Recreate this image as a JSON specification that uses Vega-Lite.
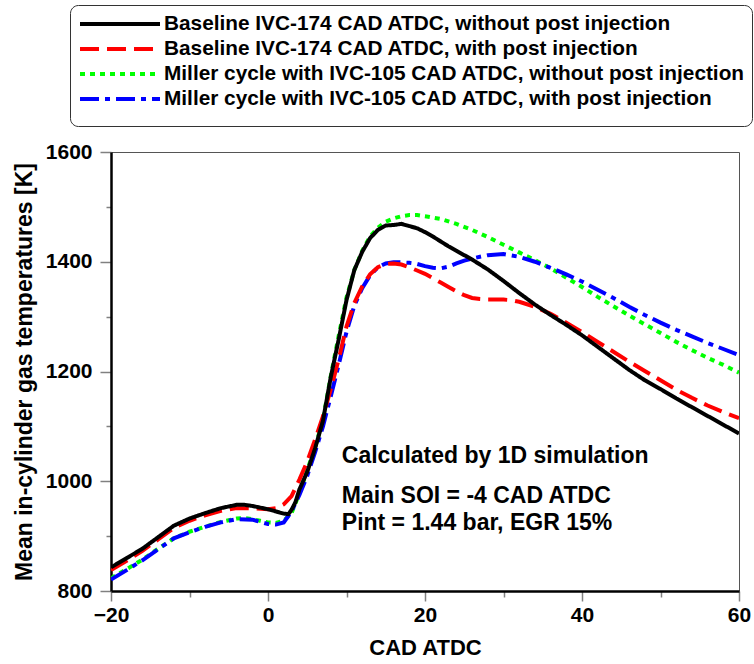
{
  "$schema": "https://vega.github.io/schema/vega-lite/v6.json",
  "width": 628,
  "height": 439,
  "autosize": {"type": "none"},
  "padding": {"left": 111, "top": 152, "right": 15, "bottom": 73},
  "background": "white",
  "config": {
    "font": "Liberation Sans",
    "view": {"stroke": "#555555", "strokeWidth": 1},
    "legend": {
      "orient": "none",
      "legendX": -41,
      "legendY": -147,
      "strokeColor": "#333333",
      "fillColor": "#ffffff",
      "cornerRadius": 8,
      "padding": 7,
      "symbolType": "M-4,0H4",
      "symbolSize": 400,
      "symbolStrokeWidth": 4,
      "symbolOffset": 31,
      "labelOffset": 32,
      "rowPadding": 3,
      "labelFont": "Liberation Sans",
      "labelFontSize": 20.8,
      "labelFontWeight": "bold",
      "labelColor": "#000000",
      "labelLimit": 0,
      "titleOrient": "bottom",
      "titleFontSize": 8,
      "titlePadding": 2,
      "titleColor": "#ffffff"
    }
  },
  "layer": [
    {
      "data": {
        "values": [
          {"s":"G","x":-20,"T":823},{"s":"G","x":-18,"T":840},{"s":"G","x":-16,"T":857},{"s":"G","x":-14,"T":877},{"s":"G","x":-12,"T":896},{"s":"G","x":-10,"T":908},{"s":"G","x":-8,"T":917},{"s":"G","x":-6,"T":926},{"s":"G","x":-4,"T":932},{"s":"G","x":-3,"T":933},{"s":"G","x":-2,"T":931},{"s":"G","x":-1,"T":928},{"s":"G","x":0,"T":925},{"s":"G","x":1,"T":924},{"s":"G","x":2,"T":928},{"s":"G","x":3,"T":942},{"s":"G","x":4,"T":978},{"s":"G","x":5,"T":1020},{"s":"G","x":6,"T":1062},{"s":"G","x":7,"T":1112},{"s":"G","x":8,"T":1192},{"s":"G","x":9,"T":1265},{"s":"G","x":10,"T":1335},{"s":"G","x":11,"T":1385},{"s":"G","x":12,"T":1420},{"s":"G","x":13,"T":1446},{"s":"G","x":14,"T":1462},{"s":"G","x":15,"T":1473},{"s":"G","x":16,"T":1479},{"s":"G","x":17,"T":1483},{"s":"G","x":18,"T":1485},{"s":"G","x":19,"T":1485},{"s":"G","x":20,"T":1483},{"s":"G","x":22,"T":1478},{"s":"G","x":24,"T":1469},{"s":"G","x":26,"T":1458},{"s":"G","x":28,"T":1445},{"s":"G","x":30,"T":1431},{"s":"G","x":32,"T":1417},{"s":"G","x":34,"T":1403},{"s":"G","x":36,"T":1388},{"s":"G","x":38,"T":1371},{"s":"G","x":40,"T":1354},{"s":"G","x":42,"T":1336},{"s":"G","x":44,"T":1319},{"s":"G","x":46,"T":1302},{"s":"G","x":48,"T":1286},{"s":"G","x":50,"T":1270},{"s":"G","x":52,"T":1254},{"s":"G","x":54,"T":1239},{"s":"G","x":56,"T":1225},{"s":"G","x":58,"T":1212},{"s":"G","x":60,"T":1198},
          {"s":"B","x":-20,"T":821},{"s":"B","x":-18,"T":838},{"s":"B","x":-16,"T":856},{"s":"B","x":-14,"T":876},{"s":"B","x":-12,"T":896},{"s":"B","x":-10,"T":907},{"s":"B","x":-8,"T":917},{"s":"B","x":-6,"T":925},{"s":"B","x":-4,"T":931},{"s":"B","x":-2,"T":930},{"s":"B","x":-1,"T":926},{"s":"B","x":0,"T":922},{"s":"B","x":1,"T":921},{"s":"B","x":2,"T":925},{"s":"B","x":3,"T":945},{"s":"B","x":4,"T":975},{"s":"B","x":5,"T":1010},{"s":"B","x":6,"T":1053},{"s":"B","x":7,"T":1100},{"s":"B","x":8,"T":1155},{"s":"B","x":9,"T":1212},{"s":"B","x":10,"T":1272},{"s":"B","x":11,"T":1320},{"s":"B","x":12,"T":1352},{"s":"B","x":13,"T":1375},{"s":"B","x":14,"T":1390},{"s":"B","x":15,"T":1397},{"s":"B","x":16,"T":1399},{"s":"B","x":17,"T":1399},{"s":"B","x":18,"T":1398},{"s":"B","x":19,"T":1396},{"s":"B","x":20,"T":1392},{"s":"B","x":21,"T":1389},{"s":"B","x":22,"T":1388},{"s":"B","x":23,"T":1391},{"s":"B","x":24,"T":1397},{"s":"B","x":25,"T":1402},{"s":"B","x":26,"T":1406},{"s":"B","x":28,"T":1412},{"s":"B","x":30,"T":1414},{"s":"B","x":32,"T":1409},{"s":"B","x":34,"T":1400},{"s":"B","x":36,"T":1389},{"s":"B","x":38,"T":1377},{"s":"B","x":40,"T":1364},{"s":"B","x":42,"T":1349},{"s":"B","x":44,"T":1334},{"s":"B","x":46,"T":1318},{"s":"B","x":48,"T":1303},{"s":"B","x":50,"T":1289},{"s":"B","x":52,"T":1276},{"s":"B","x":54,"T":1264},{"s":"B","x":56,"T":1252},{"s":"B","x":58,"T":1241},{"s":"B","x":60,"T":1230},
          {"s":"R","x":-20,"T":838},{"s":"R","x":-18,"T":855},{"s":"R","x":-16,"T":873},{"s":"R","x":-14,"T":894},{"s":"R","x":-12,"T":915},{"s":"R","x":-10,"T":928},{"s":"R","x":-8,"T":938},{"s":"R","x":-6,"T":946},{"s":"R","x":-4,"T":951},{"s":"R","x":-2,"T":951},{"s":"R","x":0,"T":949},{"s":"R","x":1,"T":951},{"s":"R","x":2,"T":958},{"s":"R","x":3,"T":973},{"s":"R","x":4,"T":1003},{"s":"R","x":5,"T":1036},{"s":"R","x":6,"T":1076},{"s":"R","x":7,"T":1118},{"s":"R","x":8,"T":1168},{"s":"R","x":9,"T":1222},{"s":"R","x":10,"T":1282},{"s":"R","x":11,"T":1325},{"s":"R","x":12,"T":1355},{"s":"R","x":13,"T":1377},{"s":"R","x":14,"T":1390},{"s":"R","x":15,"T":1396},{"s":"R","x":16,"T":1397},{"s":"R","x":17,"T":1395},{"s":"R","x":18,"T":1390},{"s":"R","x":19,"T":1384},{"s":"R","x":20,"T":1378},{"s":"R","x":21,"T":1370},{"s":"R","x":22,"T":1362},{"s":"R","x":23,"T":1354},{"s":"R","x":24,"T":1346},{"s":"R","x":25,"T":1339},{"s":"R","x":26,"T":1334},{"s":"R","x":27,"T":1332},{"s":"R","x":28,"T":1331},{"s":"R","x":30,"T":1331},{"s":"R","x":31,"T":1330},{"s":"R","x":32,"T":1327},{"s":"R","x":34,"T":1318},{"s":"R","x":36,"T":1305},{"s":"R","x":38,"T":1289},{"s":"R","x":40,"T":1272},{"s":"R","x":42,"T":1254},{"s":"R","x":44,"T":1236},{"s":"R","x":46,"T":1218},{"s":"R","x":48,"T":1201},{"s":"R","x":50,"T":1184},{"s":"R","x":52,"T":1167},{"s":"R","x":54,"T":1152},{"s":"R","x":56,"T":1138},{"s":"R","x":58,"T":1126},{"s":"R","x":60,"T":1115},
          {"s":"K","x":-20,"T":843},{"s":"K","x":-18,"T":860},{"s":"K","x":-16,"T":877},{"s":"K","x":-14,"T":898},{"s":"K","x":-12,"T":919},{"s":"K","x":-10,"T":932},{"s":"K","x":-8,"T":942},{"s":"K","x":-6,"T":951},{"s":"K","x":-4,"T":957},{"s":"K","x":-3,"T":957},{"s":"K","x":-2,"T":955},{"s":"K","x":-1,"T":952},{"s":"K","x":0,"T":949},{"s":"K","x":1,"T":945},{"s":"K","x":2,"T":941},{"s":"K","x":2.6,"T":940},{"s":"K","x":3,"T":948},{"s":"K","x":3.5,"T":962},{"s":"K","x":4,"T":985},{"s":"K","x":5,"T":1017},{"s":"K","x":6,"T":1060},{"s":"K","x":7,"T":1110},{"s":"K","x":8,"T":1190},{"s":"K","x":9,"T":1258},{"s":"K","x":10,"T":1330},{"s":"K","x":11,"T":1385},{"s":"K","x":12,"T":1418},{"s":"K","x":13,"T":1443},{"s":"K","x":14,"T":1458},{"s":"K","x":15,"T":1466},{"s":"K","x":16,"T":1467},{"s":"K","x":17,"T":1469},{"s":"K","x":18,"T":1465},{"s":"K","x":19,"T":1461},{"s":"K","x":20,"T":1454},{"s":"K","x":21,"T":1446},{"s":"K","x":22,"T":1437},{"s":"K","x":23,"T":1428},{"s":"K","x":24,"T":1420},{"s":"K","x":26,"T":1404},{"s":"K","x":28,"T":1386},{"s":"K","x":30,"T":1365},{"s":"K","x":32,"T":1343},{"s":"K","x":34,"T":1322},{"s":"K","x":36,"T":1303},{"s":"K","x":38,"T":1285},{"s":"K","x":40,"T":1266},{"s":"K","x":42,"T":1245},{"s":"K","x":44,"T":1224},{"s":"K","x":46,"T":1203},{"s":"K","x":48,"T":1184},{"s":"K","x":50,"T":1168},{"s":"K","x":52,"T":1151},{"s":"K","x":54,"T":1135},{"s":"K","x":56,"T":1119},{"s":"K","x":58,"T":1103},{"s":"K","x":60,"T":1087}
        ]
      },
      "mark": {"type": "line", "strokeWidth": 4, "clip": true},
      "encoding": {
        "x": {
          "field": "x", "type": "quantitative",
          "scale": {"domain": [-20, 60], "nice": false, "zero": false},
          "axis": {
            "values": [-20, -10, 0, 10, 20, 30, 40, 50, 60],
            "format": "d",
            "labelExpr": "datum.value % 20 === 0 ? datum.label : ''",
            "tickSize": {"condition": {"test": "datum.value % 20 === 0", "value": 10}, "value": 6},
            "tickColor": "#808080",
            "tickWidth": 1.5,
            "domainColor": "#000000",
            "domainWidth": 2.5,
            "grid": false,
            "labelFont": "Liberation Sans",
            "labelFontSize": 21,
            "labelFontWeight": "bold",
            "labelColor": "#000000",
            "labelPadding": 3,
            "labelFlush": false,
            "title": "CAD ATDC",
            "titleFont": "Liberation Sans",
            "titleFontSize": 22,
            "titleFontWeight": "bold",
            "titleColor": "#000000",
            "titlePadding": 12
          }
        },
        "y": {
          "field": "T", "type": "quantitative",
          "scale": {"domain": [800, 1600], "nice": false, "zero": false},
          "axis": {
            "values": [800, 900, 1000, 1100, 1200, 1300, 1400, 1500, 1600],
            "format": "d",
            "labelExpr": "datum.value % 200 === 0 ? datum.label : ''",
            "tickSize": {"condition": {"test": "datum.value % 200 === 0", "value": 11}, "value": 5},
            "tickColor": "#808080",
            "tickWidth": 1.5,
            "domainColor": "#000000",
            "domainWidth": 2.5,
            "grid": false,
            "labelFont": "Liberation Sans",
            "labelFontSize": 21,
            "labelFontWeight": "bold",
            "labelColor": "#000000",
            "labelPadding": 8,
            "title": "Mean in-cylinder gas temperatures [K]",
            "titleFont": "Liberation Sans",
            "titleFontSize": 23,
            "titleFontWeight": "bold",
            "titleColor": "#000000",
            "titlePadding": 9
          }
        },
        "color": {
          "field": "s", "type": "nominal",
          "scale": {"domain": ["K", "R", "G", "B"], "range": ["#000000", "#ff0000", "#00ff00", "#0000ff"]},
          "legend": {
            "title": "\u00a0",
            "labelExpr": "{'K':'Baseline IVC-174 CAD ATDC, without post injection','R':'Baseline IVC-174 CAD ATDC, with post injection','G':'Miller cycle with IVC-105 CAD ATDC, without post injection','B':'Miller cycle with IVC-105 CAD ATDC, with post injection'}[datum.value]"
          }
        },
        "strokeDash": {
          "field": "s", "type": "nominal",
          "scale": {"domain": ["K", "R", "G", "B"], "range": [[1, 0], [19, 8], [5, 5], [19, 6, 5, 6]]},
          "legend": {
            "title": "\u00a0",
            "labelExpr": "{'K':'Baseline IVC-174 CAD ATDC, without post injection','R':'Baseline IVC-174 CAD ATDC, with post injection','G':'Miller cycle with IVC-105 CAD ATDC, without post injection','B':'Miller cycle with IVC-105 CAD ATDC, with post injection'}[datum.value]"
          }
        }
      }
    },
    {
      "data": {"values": [{}]},
      "mark": {"type": "text", "align": "left", "baseline": "alphabetic", "font": "Liberation Sans", "fontSize": 23, "fontWeight": "bold", "color": "#000000"},
      "encoding": {"x": {"datum": 9.4}, "y": {"datum": 1034}, "text": {"value": "Calculated by 1D simulation"}}
    },
    {
      "data": {"values": [{}]},
      "mark": {"type": "text", "align": "left", "baseline": "alphabetic", "font": "Liberation Sans", "fontSize": 23, "fontWeight": "bold", "color": "#000000"},
      "encoding": {"x": {"datum": 9.4}, "y": {"datum": 961}, "text": {"value": "Main SOI = -4 CAD ATDC"}}
    },
    {
      "data": {"values": [{}]},
      "mark": {"type": "text", "align": "left", "baseline": "alphabetic", "font": "Liberation Sans", "fontSize": 23, "fontWeight": "bold", "color": "#000000"},
      "encoding": {"x": {"datum": 9.4}, "y": {"datum": 912}, "text": {"value": "Pint = 1.44 bar, EGR 15%"}}
    }
  ]
}
